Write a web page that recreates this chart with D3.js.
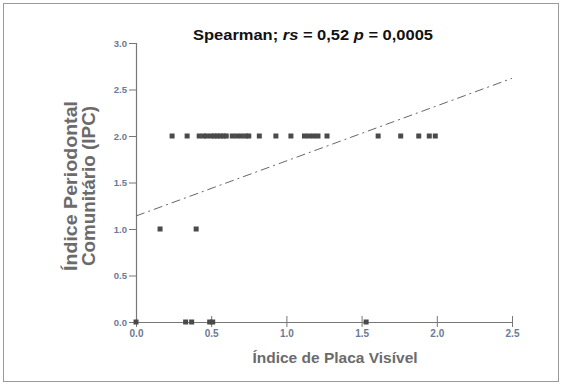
<!DOCTYPE html>
<html><head><meta charset="utf-8">
<script src="https://cdn.jsdelivr.net/npm/d3@7"></script>
<style>body{margin:0;background:#fff;} svg{display:block;font-family:"Liberation Sans",Arial,sans-serif;}</style>
</head><body>
<svg id="c" width="563" height="385"></svg>
<script>
const titleText = "Spearman; ";
const xLabel = "Índice de Placa Visível";
const yLabelLines = ["Índice Periodontal", "Comunitário (IPC)"];
const xTicks = [0.0, 0.5, 1.0, 1.5, 2.0, 2.5];
const yTicks = [0.0, 0.5, 1.0, 1.5, 2.0, 2.5, 3.0];
// IPV (x) values for each IPC level
const xAt2 = [0.24, 0.34, 0.42, 0.45, 0.47, 0.50, 0.52, 0.54, 0.56, 0.58, 0.60, 0.64, 0.67, 0.70, 0.73, 0.75,
              0.82, 0.93, 1.03, 1.12, 1.15, 1.18, 1.21, 1.27, 1.61, 1.76, 1.88, 1.95, 1.99];
const xAt1 = [0.16, 0.40];
const xAt0 = [0.00, 0.33, 0.37, 0.49, 0.51, 1.53];
const trendX = [0, 2.5];
const trendY = [1.14, 2.62];

const points = [].concat(
  xAt2.map(x => ({x, y: 2})),
  xAt1.map(x => ({x, y: 1})),
  xAt0.map(x => ({x, y: 0}))
);

const svg = d3.select("#c");
svg.append("rect").attr("x", 3.5).attr("y", 3.5).attr("width", 555).attr("height", 378)
  .attr("fill", "none").attr("stroke", "#9a9a9a").attr("stroke-width", 1);

const x = d3.scaleLinear().domain([0, 2.5]).range([136, 512]);
const y = d3.scaleLinear().domain([0, 3]).range([322, 43]);
const tickColor = "#6b7a96";

// Y axis
const yAxis = svg.append("g").attr("transform", "translate(136,0)")
  .call(d3.axisLeft(y).tickValues(yTicks).tickFormat(d3.format(".1f")).tickSize(7).tickPadding(2));
yAxis.select(".domain").attr("stroke", "#777").attr("stroke-width", 1.2);
yAxis.selectAll(".tick line").attr("stroke", "#777").attr("stroke-width", 1);
yAxis.selectAll("text").attr("fill", tickColor).attr("font-size", 9.5).attr("font-weight", "bold");

// X axis
const xAxis = svg.append("g").attr("transform", "translate(0,322)")
  .call(d3.axisBottom(x).tickValues(xTicks).tickFormat(d3.format(".1f")).tickSize(0).tickPadding(8));
xAxis.select(".domain").attr("stroke", "#777").attr("stroke-width", 1.2);
xAxis.selectAll(".tick").append("line").attr("y1", -6).attr("y2", 5).attr("stroke", "#777");
xAxis.selectAll("text").attr("fill", tickColor).attr("font-size", 10).attr("font-weight", "bold");

// Trend line
svg.append("line")
  .attr("x1", x(trendX[0])).attr("y1", y(trendY[0]))
  .attr("x2", x(trendX[1])).attr("y2", y(trendY[1]))
  .attr("stroke", "#666").attr("stroke-width", 1)
  .attr("stroke-dasharray", "9,4,2,4");

// Points
const s = 5;
svg.append("g").selectAll("rect").data(points).join("rect")
  .attr("x", d => x(d.x) - s / 2).attr("y", d => y(d.y) - s / 2)
  .attr("width", s).attr("height", s).attr("fill", "#4a4a4a");

// Title
const t = svg.append("text").attr("x", 313).attr("y", 40).attr("text-anchor", "middle")
  .attr("font-size", 15).attr("font-weight", "bold").attr("fill", "#111")
  .attr("textLength", 240).attr("lengthAdjust", "spacingAndGlyphs");
t.append("tspan").text(titleText);
t.append("tspan").attr("font-style", "italic").text("rs");
t.append("tspan").text(" = 0,52 ");
t.append("tspan").attr("font-style", "italic").text("p");
t.append("tspan").text(" = 0,0005");

// X label
svg.append("text").attr("x", 335).attr("y", 363).attr("text-anchor", "middle")
  .attr("font-size", 15.5).attr("font-weight", "bold").attr("fill", "#6b6b6b").text(xLabel);

// Y label
const yl = svg.append("text").attr("transform", "translate(77,186) rotate(-90)")
  .attr("text-anchor", "middle").attr("font-size", 18).attr("font-weight", "bold").attr("fill", "#6b6b6b");
yLabelLines.forEach((l, i) => yl.append("tspan").attr("x", 0).attr("dy", i === 0 ? 0 : 18)
  .attr("textLength", i === 0 ? 170 : 160).attr("lengthAdjust", "spacingAndGlyphs").text(l));
</script>
</body></html>
